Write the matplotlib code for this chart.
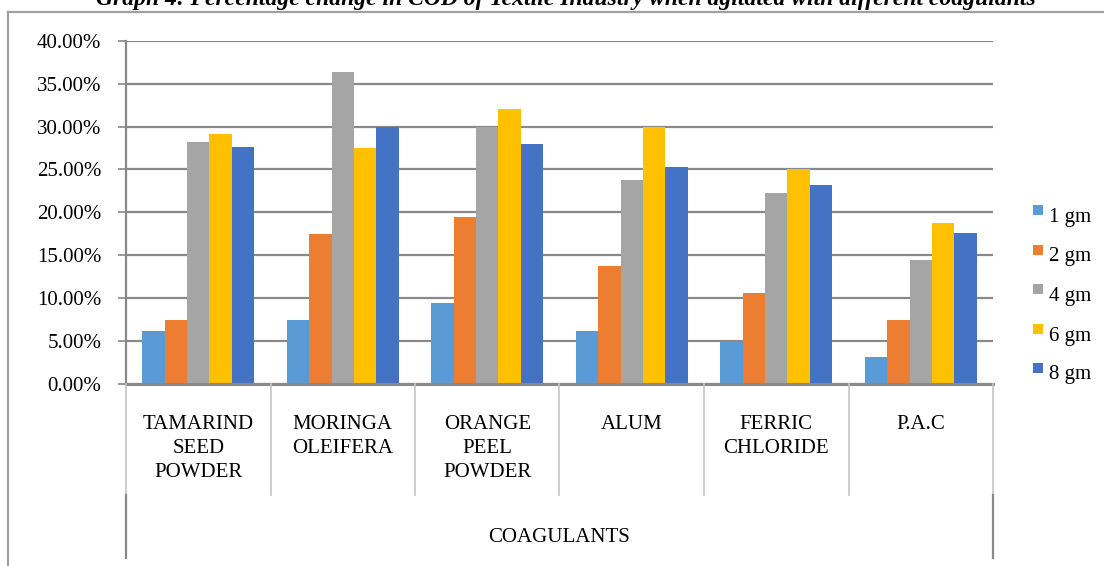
import matplotlib
matplotlib.use("Agg")
import matplotlib.pyplot as plt
from matplotlib.lines import Line2D
from matplotlib.patches import Rectangle
import numpy as np

plt.rcParams['font.family'] = ['Liberation Serif', 'DejaVu Serif']

# Coagulant categories and COD change (%) for each dose
categories = ["TAMARIND\nSEED\nPOWDER", "MORINGA\nOLEIFERA", "ORANGE\nPEEL\nPOWDER",
              "ALUM", "FERRIC\nCHLORIDE", "P.A.C"]
doses = ["1 gm", "2 gm", "4 gm", "6 gm", "8 gm"]
gm1 = [6.2, 7.5, 9.4, 6.2, 4.9, 3.1]
gm2 = [7.5, 17.5, 19.4, 13.8, 10.6, 7.5]
gm4 = [28.2, 36.4, 30.0, 23.8, 22.3, 14.4]
gm6 = [29.1, 27.5, 32.0, 30.0, 25.1, 18.8]
gm8 = [27.6, 30.0, 28.0, 25.3, 23.2, 17.6]
yticks = [0, 5, 10, 15, 20, 25, 30, 35, 40]
group_title = "COAGULANTS"
title = "Graph 4: Percentage change in COD of Textile Industry when agitated with different coagulants"

series = [gm1, gm2, gm4, gm6, gm8]
colors = ["#5B9BD5", "#ED7D31", "#A5A5A5", "#FFC000", "#4472C4"]

W, H = 1104, 566
fig = plt.figure(figsize=(W / 100, H / 100), dpi=100)

def fx(px):
    return px / W

def fy(py):
    return 1 - py / H

# Plot area in pixel terms
left, right, top, base = 126, 993, 40.7, 384
ax = fig.add_axes([fx(left), fy(base), fx(right - left), (base - top) / H])

grid_c = "#898989"
light_c = "#c4c4c4"

n = len(categories)
x = np.arange(n) + 0.5
bw = 0.155
for k, (vals, c) in enumerate(zip(series, colors)):
    ax.bar(x + (k - 2) * bw, vals, width=bw, color=c, zorder=3, label=doses[k])

ax.set_xlim(0, n)
ax.set_ylim(0, 40)
ax.set_yticks(yticks)
ax.set_yticklabels([f"{v:.2f}%" for v in yticks], fontsize=15)
ax.yaxis.grid(True, color=grid_c, linewidth=1.6, zorder=0)
ax.set_axisbelow(True)
ax.set_xticks([])
for s in ["top", "right"]:
    ax.spines[s].set_visible(False)
ax.spines["left"].set_color(grid_c)
ax.spines["left"].set_linewidth(1.6)
ax.spines["bottom"].set_color(grid_c)
ax.spines["bottom"].set_linewidth(2.2)
ax.spines["bottom"].set_zorder(4)
ax.tick_params(axis="y", length=5.8, width=1.2, color=grid_c, pad=12)

# Category separators below the axis and the outer grouping frame
sep_bottom = 495
grp_bottom = 558
for b in range(n + 1):
    xp = left + (right - left) * b / n
    fig.add_artist(Line2D([fx(xp), fx(xp)], [fy(base), fy(sep_bottom)],
                          color=light_c, linewidth=1.2))
for xp in (left, right):
    fig.add_artist(Line2D([fx(xp), fx(xp)], [fy(sep_bottom), fy(grp_bottom)],
                          color=grid_c, linewidth=1.6))

# Category labels
for i, lab in enumerate(categories):
    xp = left + (right - left) * (i + 0.5) / n
    fig.text(fx(xp), fy(415), lab, ha="center", va="top", fontsize=15,
             linespacing=1.36)
fig.text(fx((left + right) / 2), fy(537), group_title, ha="center", va="center",
         fontsize=15)

# Legend
leg_y = [217, 257, 296, 336, 375]
for c, lab, yy in zip(colors, doses, leg_y):
    fig.add_artist(Rectangle((fx(1033), fy(yy - 2)), 10 / W, 10 / H,
                             facecolor=c, edgecolor="none"))
    fig.text(fx(1049), fy(yy), lab, ha="left", va="center", fontsize=15)

# Chart frame
frame_c = "#a0a0a0"
fig.add_artist(Line2D([fx(8), fx(8)], [fy(11.5), fy(570)], color=frame_c, linewidth=1.6))
fig.add_artist(Line2D([fx(8), fx(1110)], [fy(11.5), fy(11.5)], color=frame_c, linewidth=1.6))

# Title
fig.text(fx(566), fy(5.5), title, ha="center", va="baseline", fontsize=17,
         fontweight="bold", fontstyle="italic")

fig.savefig("out.png", dpi=100)
